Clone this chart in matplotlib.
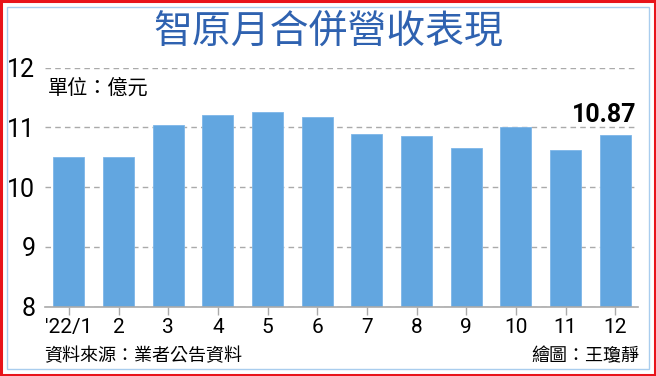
import matplotlib
matplotlib.use("Agg")
import matplotlib.pyplot as plt
from matplotlib.patches import Rectangle
from matplotlib import font_manager

months = ["'22/1", "2", "3", "4", "5", "6", "7", "8", "9", "10", "11", "12"]
revenue = [10.50, 10.50, 11.04, 11.21, 11.25, 11.17, 10.89, 10.85, 10.66, 11.00, 10.62, 10.87]
yticks = [8, 9, 10, 11, 12]
title = "智原月合併營收表現"
unit = "單位：億元"
source = "資料來源：業者公告資料"
credit = "繪圖：王瓊靜"

names = {f.name for f in font_manager.fontManager.ttflist}
num_font = "Liberation Sans Narrow" if "Liberation Sans Narrow" in names else "Roboto"
cjk = ["Noto Sans CJK TC", "DejaVu Sans"]
num = [num_font, "Noto Sans CJK TC", "DejaVu Sans"]

fig = plt.figure(figsize=(6.56, 3.76), dpi=100)
fig.patch.set_facecolor("white")
fig.patches.append(Rectangle((0.002, 0.003), 0.996, 0.994, transform=fig.transFigure,
                             fill=False, edgecolor="#e8141b", linewidth=2.2))
fig.patches.append(Rectangle((0.011, 0.018), 0.978, 0.964, transform=fig.transFigure,
                             fill=False, edgecolor="#a9cdee", linewidth=1.0))

ax = fig.add_axes([0.0686, 0.1843, 0.904, 0.6357])
x = list(range(len(months)))
ax.bar(x, revenue, width=0.63, color="#62a6e0", edgecolor="#7db6e8", linewidth=0.6, zorder=3)
ax.set_ylim(8, 12)
ax.set_xlim(-0.48, 11.46)
ax.set_yticks(yticks)
ax.set_yticklabels([str(v) for v in yticks], fontsize=18, family=num)
ax.set_xticks(x)
ax.set_xticklabels(months, fontsize=15, family=num)
ax.yaxis.grid(True, linestyle=(0, (4, 3)), color="#aaaaaa", linewidth=1.0, zorder=0)
for s in ["top", "right", "left"]:
    ax.spines[s].set_visible(False)
ax.spines["bottom"].set_color("#aaaaaa")
ax.spines["bottom"].set_linewidth(1.2)
ax.spines["bottom"].set_zorder(4)
ax.tick_params(axis="y", length=0, pad=7, colors="black")
ax.tick_params(axis="x", length=6, width=1, color="#aaaaaa", pad=2, colors="black")
for t in ax.get_xticklabels():
    t.set_color("black")

ax.text(x[-1] + 0.42, revenue[-1] + 0.14, f"{revenue[-1]:.2f}",
        ha="right", va="bottom", fontsize=18, fontweight="bold", family=num)

fig.text(0.5, 0.915, title, ha="center", va="center", fontsize=28, color="#2f62b0",
         fontweight="medium", family=cjk)
fig.text(0.073, 0.766, unit, ha="left", va="center", fontsize=14.5, family=cjk)
fig.text(0.068, 0.053, source, ha="left", va="center", fontsize=13, family=cjk)
fig.text(0.975, 0.053, credit, ha="right", va="center", fontsize=13, family=cjk)

fig.savefig("out.png", dpi=100)
